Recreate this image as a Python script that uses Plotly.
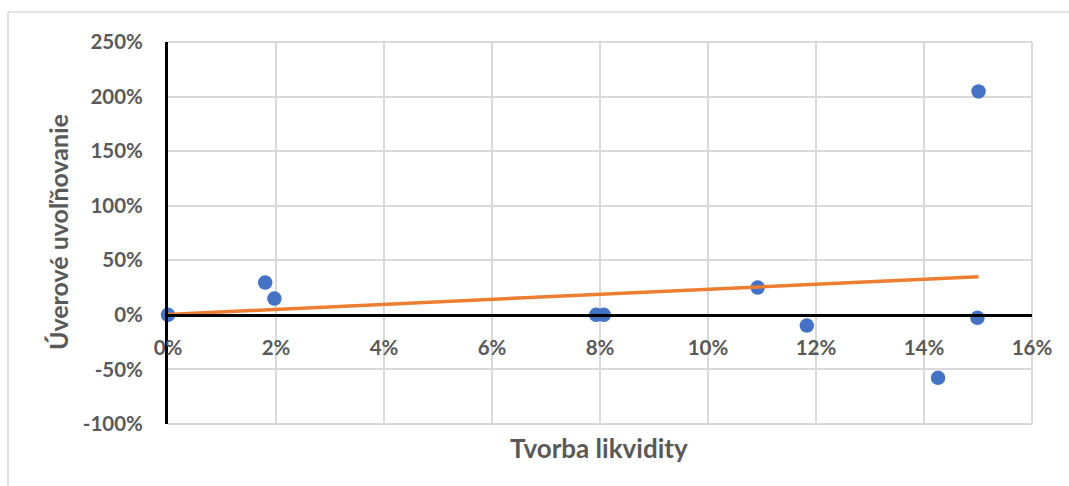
import numpy as np
import plotly.graph_objects as go

# Liquidity creation (x) vs. credit easing (y), both as fractions
tvorba_likvidity = [0.0, 0.0180, 0.0197, 0.0793, 0.0807, 0.1092, 0.1183, 0.1426, 0.1499, 0.1501]
uverove_uvolnovanie = [0.0, 0.296, 0.149, 0.0, 0.0, 0.25, -0.098, -0.577, -0.027, 2.047]

x_ticks = [0, 0.02, 0.04, 0.06, 0.08, 0.10, 0.12, 0.14, 0.16]
x_labels = ["0%", "2%", "4%", "6%", "8%", "10%", "12%", "14%", "16%"]
y_ticks = [-1.0, -0.5, 0.0, 0.5, 1.0, 1.5, 2.0, 2.5]
y_labels = ["-100%", "-50%", "0%", "50%", "100%", "150%", "200%", "250%"]

# Linear least-squares trendline spanning the observed x range
xs = np.array(tvorba_likvidity)
ys = np.array(uverove_uvolnovanie)
slope, intercept = np.polyfit(xs, ys, 1)
trend_x = [xs.min(), xs.max()]
trend_y = [slope * v + intercept for v in trend_x]

TEXT = "#595959"
GRID = "#d9d9d9"
FONT = "Lato"

fig = go.Figure()
fig.add_trace(go.Scatter(
    x=tvorba_likvidity, y=uverove_uvolnovanie, mode="markers",
    marker=dict(color="#4472C4", size=14.5, line=dict(width=0)),
    showlegend=False, cliponaxis=False,
))
fig.add_trace(go.Scatter(
    x=trend_x, y=trend_y, mode="lines",
    line=dict(color="#ED7D31", width=3.5),
    showlegend=False,
))

W, H = 1069, 486
ml, mr, mt, mb = 168, 37, 42, 62
pw, ph = W - ml - mr, H - mt - mb
zero_frac = (0 - (-1.0)) / (2.5 - (-1.0))

fig.update_layout(
    width=W, height=H,
    margin=dict(l=ml, r=mr, t=mt, b=mb),
    paper_bgcolor="white", plot_bgcolor="white",
    font=dict(family=FONT, color=TEXT),
    xaxis=dict(
        range=[0, 0.16], tickvals=x_ticks, ticktext=x_labels,
        showgrid=True, gridcolor=GRID, gridwidth=2,
        zeroline=False, showline=True, linecolor="black", linewidth=3,
        anchor="free", position=zero_frac, ticks="",
        tickfont=dict(family=FONT, size=20.5, color=TEXT, weight="bold"),
        ticklabelstandoff=14,
    ),
    yaxis=dict(
        range=[-1.0, 2.5], tickvals=y_ticks, ticktext=y_labels,
        showgrid=True, gridcolor=GRID, gridwidth=2,
        zeroline=False, showline=True, linecolor="black", linewidth=3,
        ticks="", ticklabelstandoff=18,
        tickfont=dict(family=FONT, size=20.5, color=TEXT, weight="bold"),
    ),
    shapes=[
        # top, right and bottom edges of the plot area
        dict(type="line", xref="paper", yref="paper", x0=0, x1=1, y0=1, y1=1,
             line=dict(color=GRID, width=2), layer="below"),
        dict(type="line", xref="paper", yref="paper", x0=1, x1=1, y0=0, y1=1,
             line=dict(color=GRID, width=2), layer="below"),
        dict(type="line", xref="paper", yref="paper", x0=0, x1=1, y0=0, y1=0,
             line=dict(color=GRID, width=2), layer="below"),
        # chart frame
        dict(type="line", xref="paper", yref="paper",
             x0=(8 - ml) / pw, x1=(W + 10 - ml) / pw,
             y0=(H - mb - 12) / ph, y1=(H - mb - 12) / ph,
             line=dict(color=GRID, width=1.5)),
        dict(type="line", xref="paper", yref="paper",
             x0=(8 - ml) / pw, x1=(8 - ml) / pw,
             y0=(H - mb - 12) / ph, y1=-(mb + 10) / ph,
             line=dict(color=GRID, width=1.5)),
    ],
    annotations=[
        dict(text="Tvorba likvidity", xref="paper", yref="paper",
             x=(599 - ml) / pw, y=(H - mb - 448) / ph,
             showarrow=False, xanchor="center", yanchor="middle",
             font=dict(family=FONT, size=26, color=TEXT, weight="bold")),
        dict(text="Úverové uvoľňovanie", xref="paper", yref="paper",
             x=(58 - ml) / pw, y=(H - mb - 232) / ph, textangle=-90,
             showarrow=False, xanchor="center", yanchor="middle",
             font=dict(family=FONT, size=25, color=TEXT, weight="bold")),
    ],
)

fig.write_html("out.html")
